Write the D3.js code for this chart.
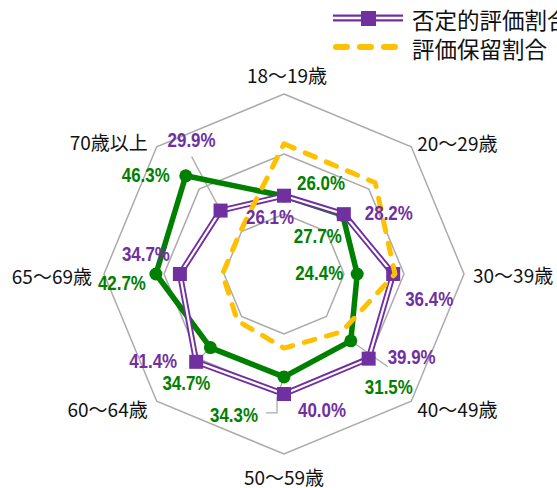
<!DOCTYPE html>
<html>
<head>
<meta charset="utf-8">
<script src="https://cdn.jsdelivr.net/npm/d3@7"></script>
<style>
body { margin: 0; background: #fff; }
svg { display: block; }
</style>
</head>
<body>
<div id="radar"></div>
<script>
// values (percent)
let categories = ["18～19歳", "20～29歳", "30～39歳", "40～49歳", "50～59歳", "60～64歳", "65～69歳", "70歳以上"];
let negative = [26.1, 28.2, 36.4, 39.9, 40.0, 41.4, 34.7, 29.9];   // 否定的評価割合
let positive = [26.0, 27.7, 24.4, 31.5, 34.3, 34.7, 42.7, 46.3];   // 肯定的評価割合
let pending  = [43.4, 43.0, 37.0, 27.2, 24.7, 22.0, 20.5, 20.4];   // 評価保留割合
let gridTicks = [20, 40, 60];
let legendNames = ["否定的評価割合", "評価保留割合"];

let width = 557;
let height = 488;
let cx = 284, cy = 274;

let purple = "#7030A0";
let green = "#008000";
let yellow = "#FFC000";
let gray = "#ABABAB";

let svg = d3.select("#radar")
	.append("svg")
	.attr("width", width)
	.attr("height", height);

svg.append("rect")
	.attr("width", width)
	.attr("height", height)
	.attr("fill", "white");

let rScale = d3.scaleLinear()
	.domain([0, 60])
	.range([0, 180]);

let angle = d3.scaleLinear()
	.domain([0, categories.length])
	.range([0, 2 * Math.PI]);

function pt(i, v){
	let a = angle(i);
	return [cx + rScale(v) * Math.sin(a), cy - rScale(v) * Math.cos(a)];
}

let closedLine = d3.line().curve(d3.curveLinearClosed);

// grid octagons
svg.selectAll(".grid")
	.data(gridTicks)
	.enter()
	.append("path")
	.attr("d", t => closedLine(categories.map((c, i) => pt(i, t))))
	.attr("fill", "none")
	.attr("stroke", gray)
	.attr("stroke-width", 1.5);

// axis labels: [dx, dy, anchor] from outer vertex
let axisOffsets = [[3, -20, "middle"], [6, -4, "start"], [9, 0, "start"], [6, 7, "start"],
	[0, 22, "middle"], [-9, 7, "end"], [-12, 1, "end"], [-9, -5, "end"]];

svg.selectAll(".axisLabel")
	.data(categories)
	.enter()
	.append("text")
	.attr("x", (d, i) => pt(i, 60)[0] + axisOffsets[i][0])
	.attr("y", (d, i) => pt(i, 60)[1] + axisOffsets[i][1])
	.attr("text-anchor", (d, i) => axisOffsets[i][2])
	.attr("dominant-baseline", "central")
	.attr("font-family", "'Noto Sans CJK JP', sans-serif")
	.attr("font-size", 19)
	.attr("fill", "#111")
	.text(d => d);

// leader lines (relative to the data point)
let leaders = [
	{ values: negative, i: 7, pts: [[0, 0], [-29, -54]] },
	{ values: positive, i: 3, pts: [[0, 0], [37, 26]] },
	{ values: positive, i: 4, pts: [[0, 0], [-7, 20], [-7, 36], [-18, 36]] },
	{ values: positive, i: 5, pts: [[0, 0], [-10, 10]] }
];

leaders.forEach(l => {
	let p = pt(l.i, l.values[l.i]);
	svg.append("path")
		.attr("d", d3.line()(l.pts.map(o => [p[0] + o[0], p[1] + o[1]])))
		.attr("fill", "none")
		.attr("stroke", gray)
		.attr("stroke-width", 1.3);
});

// green series
svg.append("path")
	.attr("d", closedLine(positive.map((v, i) => pt(i, v))))
	.attr("fill", "none")
	.attr("stroke", green)
	.attr("stroke-width", 5.5)
	.attr("stroke-linejoin", "round");

svg.selectAll(".dotG")
	.data(positive)
	.enter()
	.append("circle")
	.attr("cx", (d, i) => pt(i, d)[0])
	.attr("cy", (d, i) => pt(i, d)[1])
	.attr("r", 6.5)
	.attr("fill", green);

// purple series, double line
let negPath = closedLine(negative.map((v, i) => pt(i, v)));
svg.append("path")
	.attr("d", negPath)
	.attr("fill", "none")
	.attr("stroke", purple)
	.attr("stroke-width", 6);
svg.append("path")
	.attr("d", negPath)
	.attr("fill", "none")
	.attr("stroke", "white")
	.attr("stroke-width", 2.2);

svg.selectAll(".sqP")
	.data(negative)
	.enter()
	.append("rect")
	.attr("x", (d, i) => pt(i, d)[0] - 7)
	.attr("y", (d, i) => pt(i, d)[1] - 7)
	.attr("width", 14)
	.attr("height", 14)
	.attr("fill", purple);

// yellow dashed series
svg.append("path")
	.attr("d", closedLine(pending.map((v, i) => pt(i, v))))
	.attr("fill", "none")
	.attr("stroke", yellow)
	.attr("stroke-width", 5)
	.attr("stroke-dasharray", "11,12")
	.attr("stroke-linecap", "round")
	.attr("stroke-linejoin", "round");

// value labels: [dx, dy, anchor] from the data point
let negOffsets = [[-14, 21, "middle"], [21, -2, "start"], [12, 24, "start"], [19, -2, "start"],
	[14, 15, "start"], [-19, -1, "end"], [-10, -21, "end"], [-29, -71, "middle"]];
let posOffsets = [[13, -14, "start"], [-1, 20, "end"], [-14, -2, "end"], [14, 46, "start"],
	[-26, 38, "end"], [0, 35, "end"], [-10, 8, "end"], [-16, -1, "end"]];

function valueLabels(values, offsets, color){
	svg.append("g")
		.selectAll("text")
		.data(values)
		.enter()
		.append("text")
		.attr("x", (d, i) => pt(i, d)[0] + offsets[i][0])
		.attr("y", (d, i) => pt(i, d)[1] + offsets[i][1])
		.attr("text-anchor", (d, i) => offsets[i][2])
		.attr("dominant-baseline", "central")
		.attr("font-family", "'Liberation Sans Narrow', 'Arial Narrow', 'Liberation Sans', sans-serif")
		.attr("font-weight", "bold")
		.attr("font-size", 20.5)
		.attr("textLength", 48)
		.attr("lengthAdjust", "spacingAndGlyphs")
		.attr("fill", color)
		.text(d => d.toFixed(1) + "%");
}
valueLabels(negative, negOffsets, purple);
valueLabels(positive, posOffsets, green);

// legend
let legend = svg.append("g");
legend.append("line")
	.attr("x1", 333).attr("x2", 403).attr("y1", 18).attr("y2", 18)
	.attr("stroke", purple).attr("stroke-width", 7);
legend.append("line")
	.attr("x1", 333).attr("x2", 403).attr("y1", 18).attr("y2", 18)
	.attr("stroke", "white").attr("stroke-width", 2.5);
legend.append("rect")
	.attr("x", 361).attr("y", 11).attr("width", 15).attr("height", 15)
	.attr("fill", purple);
legend.append("line")
	.attr("x1", 336).attr("x2", 398).attr("y1", 47).attr("y2", 47)
	.attr("stroke", yellow).attr("stroke-width", 6)
	.attr("stroke-linecap", "round")
	.attr("stroke-dasharray", "11,13");

legend.selectAll("text")
	.data(legendNames)
	.enter()
	.append("text")
	.attr("x", 412)
	.attr("y", (d, i) => 19 + i * 29)
	.attr("dominant-baseline", "central")
	.attr("font-family", "'Noto Sans CJK JP', sans-serif")
	.attr("font-size", 22.5)
	.attr("fill", "#111")
	.text(d => d);
</script>
</body>
</html>
